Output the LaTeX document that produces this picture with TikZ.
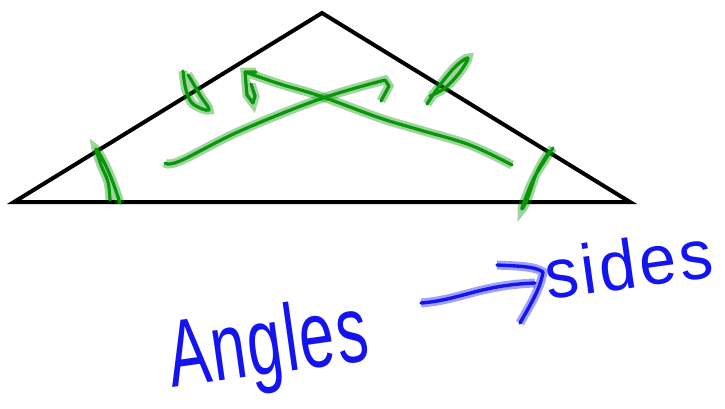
\documentclass[tikz,border=0pt]{standalone}
\usepackage{fontspec}
\usepackage{graphicx}
\setmainfont{Liberation Sans}
\usetikzlibrary{calc}
\definecolor{penGreen}{RGB}{10,150,10}
\definecolor{penBlue}{RGB}{20,20,240}
\tikzset{
  tri/.style={line width=4pt, line join=miter},
  ink/.style={line width=3.2pt, color=penGreen, line cap=round, line join=round,
     preaction={draw, line width=9pt, color=penGreen, opacity=0.4}},
  blueink/.style={line width=3.4pt, color=penBlue, line cap=round, line join=round,
     preaction={draw, line width=9pt, color=penBlue, opacity=0.4}},
  word/.style={text=penBlue, inner sep=0pt},
}
\begin{document}
\begin{tikzpicture}[x=1pt,y=-1pt]
\useasboundingbox (0,0) rectangle (725,408);
% triangle
\coordinate (L) at (14,202);
\coordinate (T) at (322,13);
\coordinate (R) at (630,202);
\draw[tri] (L) -- (T) -- (R) -- cycle;
% angle / side ticks
\draw[ink] plot[smooth, tension=0.6] coordinates {(120,203) (112,180) (103,160) (96,149) (101,165) (108,182) (110,200)};
\draw[ink] plot[smooth, tension=0.6] coordinates {(183,71) (186,90) (193,104) (209,110) (200,95) (190,78) (188,75)};
\draw[ink] plot[smooth, tension=0.6] coordinates {(427,104) (440,85) (456,66) (468,58) (460,72) (445,88) (430,96)};
\draw[ink] plot[smooth, tension=0.6] coordinates {(553,148) (545,160) (533,180) (522,208) (527,200) (537,172) (549,152)};
% crossing arrows
\coordinate (a1s) at (165,163);
\coordinate (a1e) at (385,80);
\draw[ink] plot[smooth, tension=0.6] coordinates {(a1s) (180,161) (240,131) (320,99) (a1e)}
   -- (389,86) -- (381,101);
\coordinate (a2s) at (512,165);
\coordinate (a2e) at (245,72);
\draw[ink] plot[smooth, tension=0.6] coordinates {(a2s) (470,145) (420,130) (380,118) (320,96) (280,84) (a2e)}
   (256,72) -- (a2e) -- (247,95) -- (253,103) -- (255,96) -- (251,84);
% words
\node[word, rotate=8, anchor=base west] (angles) at (172,388)
  {\scalebox{0.66}[1]{\fontsize{95}{95}\selectfont\addfontfeature{LetterSpace=3}Angles}};
\node[word, rotate=8, anchor=base west] (sides) at (548,300)
  {\scalebox{0.95}[1]{\fontsize{70}{70}\selectfont\addfontfeature{LetterSpace=5}sides}};
\coordinate (arrS) at (421,303);
\coordinate (arrE) at (543,272);
\draw[blueink] (arrS) .. controls (460,300) and (480,285) .. (535,283);
\draw[blueink] (497,265) .. controls (515,266) and (535,266) .. (arrE) .. controls (540,290) and (530,305) .. (520,323);
\end{tikzpicture}
\end{document}
